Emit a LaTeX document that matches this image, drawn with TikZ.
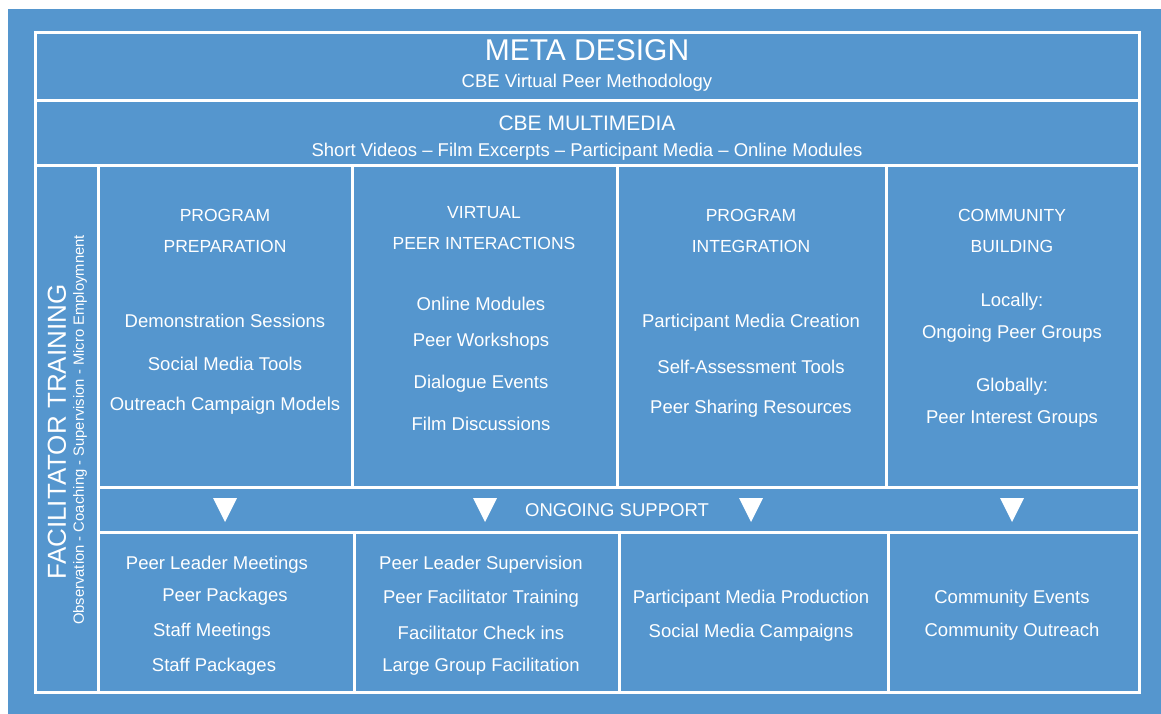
\documentclass[tikz,border=0pt]{standalone}
\usepackage{fontspec}
\setmainfont{Liberation Sans}
\definecolor{boardblue}{HTML}{5596CE}
\tikzset{
	frame/.style={draw=white, line width=3pt},
	item/.style={text=white, font=\fontsize{18.5}{22}\selectfont, inner sep=0pt},
	heading/.style={text=white, font=\fontsize{17.5}{21}\selectfont, inner sep=0pt},
	downtip/.style={fill=white, draw=none},
}
\begin{document}
\begin{tikzpicture}[x=1pt, y=-1pt]
			%page and background
			\fill[white] (0,0) rectangle (1161,714);
			\fill[boardblue] (8,9) rectangle (1161,714);
			\useasboundingbox (0,0) rectangle (1161,714);
			
			%grid of cells
			\draw[frame] (35,33) rectangle (1139,692);
			\draw[frame] (35,101) -- (1139,101);
			\draw[frame] (35,166) -- (1139,166);
			\draw[frame] (98,166) -- (98,692);
			\draw[frame] (98,487) -- (1139,487);
			\draw[frame] (98,532) -- (1139,532);
			\foreach \x in {352, 617, 886}{
				\draw[frame] (\x,166) -- (\x,487);
				\draw[frame] (\x+2,532) -- (\x+2,692);
			}
			
			%top rows
			\node[text=white, font=\fontsize{30}{34}\selectfont, inner sep=0pt] (meta) at (587,50){META DESIGN};
			\node[item] (metasub) at (587,83){CBE Virtual Peer Methodology};
			\node[text=white, font=\fontsize{21}{25}\selectfont, inner sep=0pt] (media) at (587,123){CBE MULTIMEDIA};
			\node[item] (mediasub) at (587,152){Short Videos -- Film Excerpts -- Participant Media -- Online Modules};
			
			%left column
			\node[rotate=90, text=white, font=\fontsize{26}{30}\selectfont, inner sep=0pt] (train) at (57,432){FACILITATOR TRAINING};
			\node[rotate=90, text=white, font=\fontsize{14.8}{18}\selectfont, inner sep=0pt] (trainsub) at (80,430){Observation - Coaching - Supervision - Micro Employmnent};
			
			%headings
			\foreach \x/\y/\t [count=\i] in {225/215/PROGRAM, 225/246/PREPARATION, 484/213/VIRTUAL, 484/243/PEER INTERACTIONS, 751/215/PROGRAM, 751/246/INTEGRATION, 1012/215/COMMUNITY, 1012/246/BUILDING}{
				\node[heading] (head\i) at (\x,\y){\t};
			}
			
			%program preparation
			\foreach \y/\t [count=\i] in {321/Demonstration Sessions, 364/Social Media Tools, 406/Outreach Campaign Models}{
				\node[item] (prep\i) at (225,\y){\t};
			}
			%virtual peer interactions
			\foreach \y/\t [count=\i] in {304/Online Modules, 342/Peer Workshops, 384/Dialogue Events, 424/Film Discussions}{
				\node[item] (peer\i) at (481,\y){\t};
			}
			%program integration
			\foreach \y/\t [count=\i] in {323/Participant Media Creation, 367/Self-Assessment Tools, 409/Peer Sharing Resources}{
				\node[item] (integ\i) at (751,\y){\t};
			}
			%community building
			\foreach \y/\t [count=\i] in {302/Locally:, 334/Ongoing Peer Groups, 387/Globally:, 419/Peer Interest Groups}{
				\node[item] (comm\i) at (1012,\y){\t};
			}
			
			%ongoing support
			\node[item] (support) at (617,510){ONGOING SUPPORT};
			\foreach \x in {225, 485, 751, 1012}{
				\fill[downtip] (\x-12,498) -- (\x+12,498) -- (\x,522) -- cycle;
			}
			
			%bottom cells
			\foreach \x/\y/\t [count=\i] in {217/565/Peer Leader Meetings, 225/597/Peer Packages, 212/632/Staff Meetings, 214/667/Staff Packages}{
				\node[item] (lead\i) at (\x,\y){\t};
			}
			\foreach \y/\t [count=\i] in {565/Peer Leader Supervision, 599/Peer Facilitator Training, 633/Facilitator Check ins, 667/Large Group Facilitation}{
				\node[item] (super\i) at (481,\y){\t};
			}
			\foreach \y/\t [count=\i] in {599/Participant Media Production, 633/Social Media Campaigns}{
				\node[item] (prod\i) at (751,\y){\t};
			}
			\foreach \y/\t [count=\i] in {599/Community Events, 632/Community Outreach}{
				\node[item] (event\i) at (1012,\y){\t};
			}
		\end{tikzpicture}
\end{document}
